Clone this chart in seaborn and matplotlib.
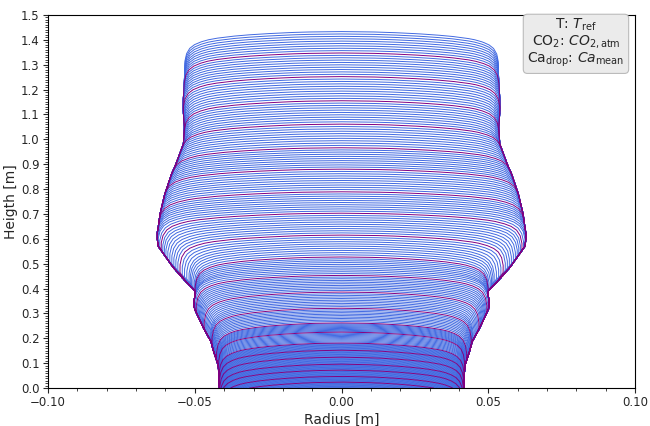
"""Stalagmite growth layers: every layer profile as a line, every 10th in purple."""

import numpy as np
import pandas as pd

import matplotlib
matplotlib.use("Agg")
import matplotlib.pyplot as plt
from matplotlib.ticker import MultipleLocator
import seaborn as sns

# ---------------------------------------------------------------------------
# Data
# ---------------------------------------------------------------------------

# centre height [m] of every 10th growth layer (the purple lines)
marker_tops = [0.024, 0.047, 0.072, 0.096, 0.124, 0.152, 0.181, 0.225, 0.262,
               0.321, 0.386, 0.453, 0.527, 0.615, 0.703, 0.789, 0.880, 0.966,
               1.061, 1.155, 1.252, 1.347]
final_top = 1.433
layers_per_marker = 10
layers_after_last_marker = 9

# radius [m] of the growing cap when its top stood at a given height [m]
cap_height = [0.00, 0.24, 0.30, 0.345, 0.39, 0.44, 0.473, 0.49, 0.54, 0.58,
              0.62, 0.674, 0.72, 0.745, 0.765, 0.818, 0.872, 0.952, 0.98,
              1.086, 1.18, 1.27, 1.395, 1.45]
cap_radius = [0.041, 0.042, 0.0437, 0.0447, 0.047, 0.049, 0.0503, 0.0497,
              0.050, 0.052, 0.0555, 0.0597, 0.0625, 0.0628, 0.0625, 0.0619,
              0.0608, 0.0585, 0.0574, 0.054, 0.0535, 0.054, 0.0534, 0.0534]

# shape of one layer: depth below its own top [m] vs fraction of cap radius
shape_depth = [0.0, 0.0015, 0.0033, 0.006, 0.0093, 0.0135, 0.019, 0.027,
               0.033, 0.042, 0.053, 0.068, 0.090, 0.120, 0.15, 0.19, 0.23,
               0.27]
shape_frac = [0.0, 0.2, 0.3, 0.4, 0.5, 0.6, 0.7, 0.8,
              0.85, 0.9, 0.94, 0.97, 0.99, 1.0, 1.0, 0.96, 0.88, 0.75]

LEGEND_TEXT = ("T: $T_{\\rm ref}$\n"
               "CO$_2$: $CO_{2,\\rm atm}$\n"
               "Ca$_{\\rm drop}$: $Ca_{\\rm mean}$")

# ---------------------------------------------------------------------------
# Styling
# ---------------------------------------------------------------------------

sns.set_theme(style="ticks")
plt.rcParams.update({
    "font.family": ["DejaVu Sans"],
    "font.size": 10,
    "axes.labelsize": 10,
    "axes.labelpad": 2.5,
    "xtick.labelsize": 8.5,
    "ytick.labelsize": 8.5,
    "xtick.major.pad": 2.5,
    "ytick.major.pad": 2.5,
    "axes.linewidth": 0.8,
    "axes.edgecolor": "black",
    "xtick.major.size": 3.5,
    "ytick.major.size": 3.5,
    "xtick.minor.size": 2,
    "ytick.minor.size": 2,
    "xtick.major.width": 0.8,
    "ytick.major.width": 0.8,
    "xtick.minor.width": 0.6,
    "ytick.minor.width": 0.6,
})

# ---------------------------------------------------------------------------
# Build layer profiles
# ---------------------------------------------------------------------------

tops, kinds = [], []
lo = 0.0
for hi in marker_tops:
    for i in range(1, layers_per_marker + 1):
        tops.append(lo + (hi - lo) * i / layers_per_marker)
        kinds.append("mark" if i == layers_per_marker else "layer")
    lo = hi
for i in range(1, layers_after_last_marker + 1):
    tops.append(lo + (final_top - lo) * i / layers_after_last_marker)
    kinds.append("layer")

tops = np.array(tops)
radii = np.interp(tops, cap_height, cap_radius)

frames = []
for k, h in enumerate(tops):
    t = np.unique(np.concatenate([np.linspace(0, 0.13, 80),
                                  np.linspace(0, h, 320)]))
    t = t[t <= h]
    y = h - t
    depth = tops[:k + 1, None] - y[None, :]
    frac = np.interp(depth, shape_depth, shape_frac, left=0.0, right=0.0)
    r = (radii[:k + 1, None] * frac).max(axis=0)
    xs = np.concatenate([-r[::-1], r])
    ys = np.concatenate([y[::-1], y])
    frames.append(pd.DataFrame({"x": xs, "y": ys, "layer": k, "kind": kinds[k]}))

df = pd.concat(frames, ignore_index=True)

# ---------------------------------------------------------------------------
# Plot
# ---------------------------------------------------------------------------

fig, ax = plt.subplots(figsize=(6.5, 4.26), dpi=100)
fig.subplots_adjust(left=0.074, right=0.977, bottom=0.089, top=0.965)

sns.lineplot(
    data=df, x="x", y="y", units="layer", estimator=None, sort=False,
    hue="kind", hue_order=["layer", "mark"],
    palette={"layer": "royalblue", "mark": "purple"},
    linewidth=0.7, legend=False, ax=ax,
)

ax.set_xlim(-0.10, 0.10)
ax.set_ylim(0.0, 1.5)
ax.xaxis.set_major_locator(MultipleLocator(0.05))
ax.xaxis.set_minor_locator(MultipleLocator(0.01))
ax.yaxis.set_major_locator(MultipleLocator(0.1))
ax.yaxis.set_minor_locator(MultipleLocator(0.01))
ax.set_xlabel("Radius [m]")
ax.set_ylabel("Heigth [m]")

ax.text(0.982, 0.996, LEGEND_TEXT, transform=ax.transAxes, ha="right", va="top",
        multialignment="center", fontsize=10, linespacing=1.05,
        bbox=dict(boxstyle="round,pad=0.3", facecolor="#ebebeb",
                  edgecolor="#bbbbbb", linewidth=0.8))

fig.savefig("out.png", dpi=100)
plt.close(fig)
